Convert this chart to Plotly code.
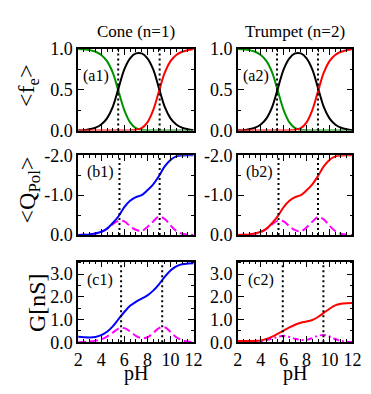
import plotly.graph_objects as go

# ---------------- data ----------------
ph = [2.0, 2.5, 3.0, 3.5, 4.0, 4.5, 5.0, 5.5, 6.0, 6.5, 7.0,
      7.5, 8.0, 8.5, 9.0, 9.5, 10.0, 10.5, 11.0, 11.5, 12.0]

# (a) fractions <f_e>
fe0 = [1.0, 0.995, 0.985, 0.965, 0.925, 0.85, 0.71, 0.48, 0.25, 0.10, 0.03,
       0.008, 0.002, 0.0, 0.0, 0.0, 0.0, 0.0, 0.0, 0.0, 0.0]
fe1 = [0.002, 0.005, 0.015, 0.035, 0.075, 0.15, 0.29, 0.52, 0.75, 0.885, 0.945,
       0.945, 0.885, 0.75, 0.52, 0.29, 0.15, 0.075, 0.035, 0.015, 0.005]
fe2 = [0.0, 0.0, 0.0, 0.0, 0.0, 0.0, 0.0, 0.0, 0.0, 0.002, 0.008,
       0.03, 0.10, 0.25, 0.48, 0.71, 0.85, 0.925, 0.965, 0.985, 1.0]

# (b) polymer charge <Q_Pol> and its fluctuation
q_cone = [0.0, -0.005, -0.015, -0.04, -0.08, -0.16, -0.3, -0.47, -0.7, -0.86, -0.95,
          -1.0, -1.12, -1.27, -1.48, -1.72, -1.88, -1.97, -1.995, -2.0, -2.0]
dq_cone = [0.0, -0.005, -0.015, -0.035, -0.07, -0.15, -0.27, -0.36, -0.34, -0.22, -0.13,
           -0.1, -0.2, -0.34, -0.46, -0.4, -0.24, -0.1, -0.03, -0.01, 0.0]
q_trumpet = [0.0, -0.005, -0.015, -0.04, -0.08, -0.16, -0.3, -0.48, -0.7, -0.86, -0.95,
             -1.0, -1.12, -1.27, -1.48, -1.72, -1.88, -1.97, -1.995, -2.0, -2.0]
dq_trumpet = [0.0, -0.005, -0.015, -0.035, -0.07, -0.15, -0.27, -0.36, -0.34, -0.22, -0.12,
              -0.09, -0.19, -0.33, -0.45, -0.39, -0.23, -0.1, -0.03, -0.01, 0.0]

# (c) conductance G [nS] and its fluctuation
g_cone = [0.24, 0.22, 0.21, 0.23, 0.31, 0.46, 0.7, 1.02, 1.33, 1.6, 1.78,
          1.92, 2.06, 2.27, 2.55, 2.88, 3.16, 3.34, 3.43, 3.46, 3.47]
dg_cone = [0.0, 0.01, 0.03, 0.07, 0.13, 0.25, 0.42, 0.6, 0.62, 0.47, 0.28,
           0.18, 0.22, 0.4, 0.62, 0.66, 0.45, 0.22, 0.09, 0.03, 0.01]
g_trumpet = [0.05, 0.05, 0.05, 0.06, 0.08, 0.15, 0.25, 0.38, 0.51, 0.65, 0.77,
             0.86, 0.91, 0.98, 1.11, 1.29, 1.47, 1.62, 1.69, 1.72, 1.73]
dg_trumpet = [0.0, 0.0, 0.01, 0.02, 0.04, 0.09, 0.16, 0.24, 0.28, 0.23, 0.15,
              0.1, 0.11, 0.18, 0.28, 0.32, 0.25, 0.14, 0.06, 0.02, 0.01]

# dotted pK markers per panel
pk_a1 = [5.47, 9.06]
pk_a2 = [5.42, 9.0]
pk_b1 = [5.58, 9.06]
pk_b2 = [5.55, 9.0]
pk_c1 = [5.72, 9.28]
pk_c2 = [5.92, 9.47]

col_titles = ["Cone (n=1)", "Trumpet (n=2)"]
panel_labels = ["(a1)", "(a2)", "(b1)", "(b2)", "(c1)", "(c2)"]
y_titles = ["&lt;f<sub>e</sub>&gt;", "&lt;Q<sub>Pol</sub>&gt;", "G[nS]"]
x_title = "pH"

# ---------------- layout helpers ----------------
W, H = 371, 394
FONT = "Liberation Serif, Times New Roman, Times, serif"
cols_px = [(76, 196), (242, 361)]
rows_px = [(41, 127), (153, 237), (265, 350)]


def fx(p):
    return p / W


def fy(p):
    return 1 - p / H


def sfx(k):
    return "" if k == 1 else str(k)


GREEN = "#009200"
BLACK = "#000000"
RED = "#ff0000"
BLUE = "#0000ff"
MAG = "#ff00ff"

fig = go.Figure()


def add(k, y, color, dash="solid"):
    fig.add_trace(go.Scatter(x=ph, y=y, mode="lines", xaxis="x" + sfx(k),
                             yaxis="y" + sfx(k),
                             line=dict(color=color, width=2, dash=dash, shape="spline",
                                       smoothing=1.0),
                             hoverinfo="skip"))


# panel 1,2 : fractions
for k in (1, 2):
    add(k, fe0, GREEN)
    add(k, fe1, BLACK)
    add(k, fe2, RED)
# panel 3,4 : charge
add(3, dq_cone, MAG, "8px,4px")
add(3, q_cone, BLUE)
add(4, dq_trumpet, MAG, "8px,4px")
add(4, q_trumpet, RED)
# panel 5,6 : conductance
add(5, dg_cone, MAG, "8px,4px")
add(5, g_cone, BLUE)
add(6, dg_trumpet, MAG, "6px,3px,2px,3px")
add(6, g_trumpet, RED)

pk_lists = [pk_a1, pk_a2, pk_b1, pk_b2, pk_c1, pk_c2]
shapes = []
for k, pks in enumerate(pk_lists, start=1):
    for p in pks:
        shapes.append(dict(type="line", xref="x" + sfx(k), yref="y" + sfx(k) + " domain",
                           x0=p, x1=p, y0=0, y1=1, layer="above",
                           line=dict(color="black", width=2, dash="2px,3px")))

axis_common = dict(showline=True, linecolor="black", linewidth=1.6, mirror="ticks",
                   ticks="inside", ticklen=6, tickwidth=1.2, tickcolor="black",
                   showgrid=False, zeroline=False,
                   tickfont=dict(family=FONT, size=18, color="black"))

y_specs = [
    dict(range=[0, 1.0], tickvals=[0, 0.5, 1.0], ticktext=["0.0", "0.5", "1.0"],
         minor=dict(tickvals=[0.25, 0.75], ticks="inside", ticklen=3, tickcolor="black")),
    dict(range=[0, -2.0], tickvals=[0, -1.0, -2.0], ticktext=["0.0", "-1.0", "-2.0"],
         minor=dict(tickvals=[-0.5, -1.5], ticks="inside", ticklen=3, tickcolor="black")),
    dict(range=[0, 3.55], tickvals=[0, 1, 2, 3], ticktext=["0.0", "1.0", "2.0", "3.0"],
         minor=dict(tickvals=[0.5, 1.5, 2.5, 3.5], ticks="inside", ticklen=3,
                    tickcolor="black")),
]

layout = dict(width=W, height=H, margin=dict(l=0, r=0, t=0, b=0),
              paper_bgcolor="white", plot_bgcolor="white", showlegend=False,
              font=dict(family=FONT, color="black"),
              shapes=shapes)

annotations = []
for r in range(3):
    for c in range(2):
        k = r * 2 + c + 1
        x0, x1 = cols_px[c]
        y0, y1 = rows_px[r]
        xa = dict(axis_common, domain=[fx(x0), fx(x1)], range=[2, 12],
                  tickmode="linear", tick0=2, dtick=2,
                  showticklabels=(r == 2), anchor="y" + sfx(k),
                  minor=dict(tick0=2, dtick=0.5, ticks="inside", ticklen=3,
                             tickcolor="black"))
        ya = dict(axis_common, domain=[fy(y1), fy(y0)], anchor="x" + sfx(k), **y_specs[r])
        layout["xaxis" + sfx(k)] = xa
        layout["yaxis" + sfx(k)] = ya

# column titles and x titles
for c in range(2):
    x0, x1 = cols_px[c]
    annotations.append(dict(text=col_titles[c], x=fx((x0 + x1) / 2), y=fy(23),
                            xref="paper", yref="paper", showarrow=False,
                            xanchor="center", yanchor="middle",
                            font=dict(family=FONT, size=17, color="black")))
    annotations.append(dict(text=x_title, x=fx((x0 + x1) / 2), y=fy(383),
                            xref="paper", yref="paper", showarrow=False,
                            xanchor="center", yanchor="middle",
                            font=dict(family=FONT, size=20, color="black")))

# y titles
ytitle_pos = [(24, 80), (25, 190), (34, 308)]
for r in range(3):
    px, py = ytitle_pos[r]
    annotations.append(dict(text=y_titles[r], x=fx(px), y=fy(py), xref="paper",
                            yref="paper", showarrow=False, textangle=-90,
                            xanchor="center", yanchor="middle",
                            font=dict(family=FONT, size=24, color="black")))

# panel labels
label_pos = [(79, 70), (245, 70), (83, 171), (248, 171), (83, 284), (250, 284)]
for i, (px, py) in enumerate(label_pos):
    annotations.append(dict(text=panel_labels[i], x=fx(px), y=fy(py), xref="paper",
                            yref="paper", showarrow=False, xanchor="left",
                            yanchor="middle",
                            font=dict(family=FONT, size=16, color="black")))

layout["annotations"] = annotations
fig.update_layout(**layout)
fig.write_html("out.html")
